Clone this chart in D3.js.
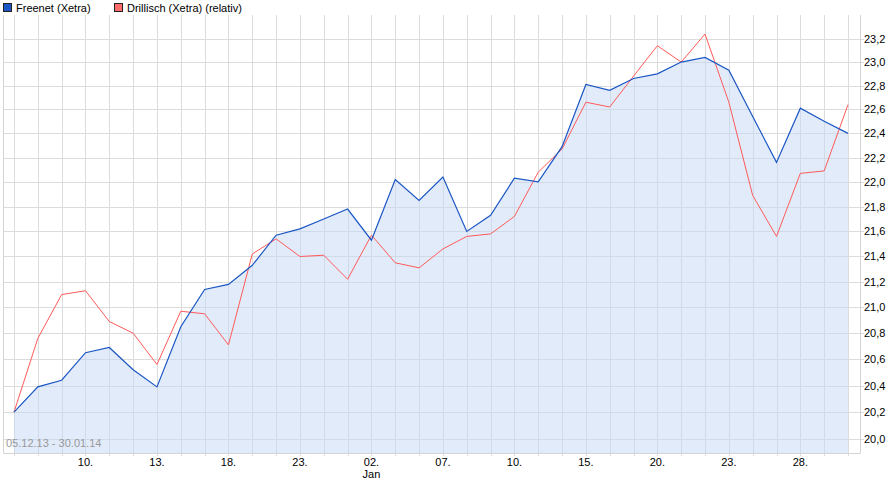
<!DOCTYPE html>
<html>
<head>
<meta charset="utf-8">
<script src="https://cdn.jsdelivr.net/npm/d3@7"></script>
<style>
body { margin:0; background:#fff; }
text { font-family:"Liberation Sans", Arial, sans-serif; font-size:11px; }
</style>
</head>
<body>
<svg id="chart"></svg>
<script>
// trading days 05.12.13 - 30.01.14
var dates = ["05.12","06.12","09.12","10.12","11.12","12.12","13.12","16.12","17.12","18.12",
    "19.12","20.12","23.12","27.12","30.12","02.01","03.01","06.01","07.01","08.01",
    "09.01","10.01","13.01","14.01","15.01","16.01","17.01","20.01","21.01","22.01",
    "23.01","24.01","27.01","28.01","29.01","30.01"]

var freenet = [20.20,20.39,20.44,20.65,20.69,20.52,20.39,20.85,21.14,21.18,
    21.33,21.57,21.62,21.70,21.78,21.53,22.02,21.85,22.04,21.60,
    21.73,22.03,22.00,22.29,22.81,22.76,22.86,22.90,23.00,23.04,
    22.93,22.54,22.16,22.61,22.50,22.40]

var drillisch = [20.20,20.76,21.10,21.13,20.89,20.80,20.56,20.97,20.95,20.71,
    21.42,21.54,21.40,21.41,21.22,21.57,21.35,21.31,21.46,21.56,
    21.58,21.72,22.08,22.27,22.66,22.62,22.88,23.14,23.00,23.24,
    22.66,21.89,21.56,22.07,22.09,22.64]

var yTicks = [20.0,20.2,20.4,20.6,20.8,21.0,21.2,21.4,21.6,21.8,22.0,22.2,22.4,22.6,22.8,23.0,23.2]

// which days get a label, and the month line under it
var xLabels = [{i:3,t:"10."},{i:6,t:"13."},{i:9,t:"18."},{i:12,t:"23."},{i:15,t:"02.",m:"Jan"},
    {i:18,t:"07."},{i:21,t:"10."},{i:24,t:"15."},{i:27,t:"20."},{i:30,t:"23."},{i:33,t:"28."}]

var legend = [{name:"Freenet (Xetra)", color:"#1a56c4"},{name:"Drillisch (Xetra) (relativ)", color:"#ff6b6b"}]

var screen = {width:896, height:485}
var box = {left:3, right:860, top:15, bottom:453}

var svg = d3.select("#chart")
    .attr("width",screen.width)
    .attr("height",screen.height)
    .style("display","block")

var xScale = d3.scaleLinear()
    .domain([0,dates.length-1])
    .range([14,848])

var yScale = d3.scaleLog()
    .domain([19.896,23.405])
    .range([box.bottom,box.top])

var grid = svg.append("g")

// vertical grid lines, one per trading day
grid.selectAll(".vg")
    .data(dates)
    .enter()
    .append("line")
    .attr("x1",function(d,i){return Math.round(xScale(i))+0.5})
    .attr("x2",function(d,i){return Math.round(xScale(i))+0.5})
    .attr("y1",box.top)
    .attr("y2",box.bottom+3)
    .attr("stroke","#dcdcdc")

grid.selectAll(".hg")
    .data(yTicks)
    .enter()
    .append("line")
    .attr("x1",box.left)
    .attr("x2",box.right+4)
    .attr("y1",function(d){return Math.round(yScale(d))+0.5})
    .attr("y2",function(d){return Math.round(yScale(d))+0.5})
    .attr("stroke","#dcdcdc")

// area under Freenet
var area = d3.area()
    .x(function(d,i){return xScale(i)})
    .y0(box.bottom)
    .y1(function(d){return yScale(d)})

svg.append("path")
    .datum(freenet)
    .attr("d",area)
    .attr("fill","#c6d8f5")
    .attr("fill-opacity",0.5)

// plot frame
svg.append("path")
    .attr("d","M"+(box.left+0.5)+","+box.top+"V"+(box.bottom+0.5)+"H"+(box.right+0.5)+"V"+box.top)
    .attr("fill","none")
    .attr("stroke","#d4d4d4")

var line = d3.line()
    .x(function(d,i){return xScale(i)})
    .y(function(d){return yScale(d)})

svg.append("path")
    .datum(drillisch)
    .attr("d",line)
    .attr("fill","none")
    .attr("stroke","#ff5a5a")
    .attr("stroke-width",1)

svg.append("path")
    .datum(freenet)
    .attr("d",line)
    .attr("fill","none")
    .attr("stroke","#1a56c4")
    .attr("stroke-width",1.2)

// y labels on the right
svg.selectAll(".yl")
    .data(yTicks)
    .enter()
    .append("text")
    .attr("x",864)
    .attr("y",function(d){return yScale(d)+4})
    .attr("fill","#000")
    .text(function(d){return d3.format(".1f")(d).replace(".",",")})

// x labels
var xl = svg.selectAll(".xl")
    .data(xLabels)
    .enter()
    .append("g")
    .attr("transform",function(d){return "translate("+xScale(d.i)+",0)"})

xl.append("text")
    .attr("y",466)
    .attr("text-anchor","middle")
    .text(function(d){return d.t})

xl.filter(function(d){return d.m})
    .append("text")
    .attr("y",478)
    .attr("text-anchor","middle")
    .text(function(d){return d.m})

svg.append("text")
    .attr("x",6)
    .attr("y",447)
    .attr("fill","#999")
    .text("05.12.13 - 30.01.14")

// legend
var lg = svg.selectAll(".lg")
    .data(legend)
    .enter()
    .append("g")
    .attr("transform",function(d,i){return "translate("+(i==0?3:114)+",3)"})

lg.append("rect")
    .attr("x",0.5)
    .attr("y",0.5)
    .attr("width",8)
    .attr("height",8)
    .attr("fill",function(d){return d.color})
    .attr("stroke","#222")

lg.append("text")
    .attr("x",13)
    .attr("y",8.5)
    .text(function(d){return d.name})
</script>
</body>
</html>
